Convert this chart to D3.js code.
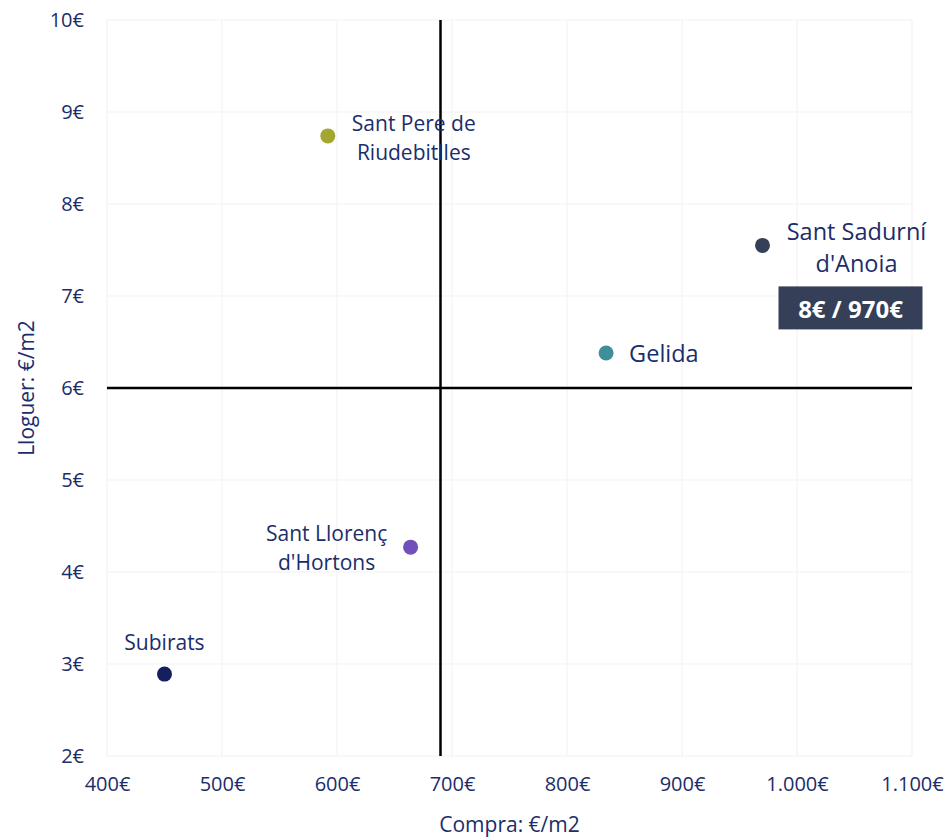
<!DOCTYPE html>
<html>
<head>
<meta charset="utf-8">
<script src="https://cdn.jsdelivr.net/npm/d3@7"></script>
<style>
  body { margin: 0; background: #fff; }
  text { font-family: "Open Sans", "Noto Sans", sans-serif; }
</style>
</head>
<body>
<div id="container"></div>
<script>
/* DATA */
const municipis = ["Sant Pere de Riudebitlles", "Sant Sadurní d'Anoia", "Gelida", "Sant Llorenç d'Hortons", "Subirats"];
const compra = [592, 970, 834, 664, 450];     // €/m2
const lloguer = [8.74, 7.55, 6.38, 4.27, 2.89]; // €/m2
const colorsPunt = ["#a3a630", "#363f58", "#3e8f98", "#7151b9", "#151f5e"];
const xTicks = [400, 500, 600, 700, 800, 900, 1000, 1100];
const yTicks = [2, 3, 4, 5, 6, 7, 8, 9, 10];
const mitjanaCompra = 690;
const mitjanaLloguer = 6;
const tooltipText = "8€ / 970€";

/* LAYOUT */
const width = 951, height = 838;
const margin = { top: 20, right: 39, bottom: 82, left: 107 };
const textColor = "#1b2d6b";

// label placement per point
const labelPos = [
  { dx: 86, dy: -13, lh: 29, anchor: "middle", size: 21, lines: ["Sant Pere de", "Riudebitlles"] },
  { dx: 94, dy: -14, lh: 32, anchor: "middle", size: 23.5, lines: ["Sant Sadurní", "d'Anoia"] },
  { dx: 23, dy: 0, lh: 0, anchor: "start", size: 23.5, lines: ["Gelida"] },
  { dx: -84, dy: -14, lh: 29, anchor: "middle", size: 21, lines: ["Sant Llorenç", "d'Hortons"] },
  { dx: 0, dy: -32, lh: 0, anchor: "middle", size: 21, lines: ["Subirats"] }
];

const data = municipis.map((m, i) => ({ name: m, compra: compra[i], lloguer: lloguer[i], color: colorsPunt[i], label: labelPos[i] }));

/* SCALES */
const xScale = d3.scaleLinear()
  .domain([400, 1100])
  .range([margin.left, width - margin.right]);

const yScale = d3.scaleLinear()
  .domain([2, 10])
  .range([height - margin.bottom, margin.top]);

const euro = d3.formatLocale({ decimal: ",", thousands: ".", grouping: [3], currency: ["", "€"] }).format("$,.0f");

/* SVG */
const svg = d3.select("#container")
  .append("svg")
  .attr("width", width)
  .attr("height", height);

// grid
svg.append("g")
  .selectAll("line")
  .data(xTicks)
  .join("line")
  .attr("x1", d => xScale(d)).attr("x2", d => xScale(d))
  .attr("y1", margin.top).attr("y2", height - margin.bottom)
  .attr("stroke", "#f1f1f1").attr("stroke-width", 1);

svg.append("g")
  .selectAll("line")
  .data(yTicks)
  .join("line")
  .attr("y1", d => yScale(d)).attr("y2", d => yScale(d))
  .attr("x1", margin.left).attr("x2", width - margin.right)
  .attr("stroke", "#f1f1f1").attr("stroke-width", 1);

// axes (tick labels only)
const xAxis = d3.axisBottom(xScale).tickValues(xTicks).tickFormat(euro).tickSize(0).tickPadding(21);
svg.append("g")
  .attr("transform", `translate(0,${height - margin.bottom})`)
  .call(xAxis)
  .call(g => g.select(".domain").remove())
  .selectAll("text")
  .attr("fill", textColor)
  .style("font-size", "20px");

const yAxis = d3.axisLeft(yScale).tickValues(yTicks).tickFormat(euro).tickSize(0).tickPadding(23);
svg.append("g")
  .attr("transform", `translate(${margin.left},0)`)
  .call(yAxis)
  .call(g => g.select(".domain").remove())
  .selectAll("text")
  .attr("fill", textColor)
  .style("font-size", "20px");

// axis titles
svg.append("text")
  .attr("x", (margin.left + width - margin.right) / 2)
  .attr("y", 832)
  .attr("text-anchor", "middle")
  .attr("fill", textColor)
  .style("font-size", "21px")
  .text("Compra: €/m2");

svg.append("text")
  .attr("transform", `translate(34,${(margin.top + height - margin.bottom) / 2}) rotate(-90)`)
  .attr("text-anchor", "middle")
  .attr("fill", textColor)
  .style("font-size", "21px")
  .text("Lloguer: €/m2");

// reference lines
svg.append("line")
  .attr("x1", xScale(mitjanaCompra)).attr("x2", xScale(mitjanaCompra))
  .attr("y1", margin.top).attr("y2", height - margin.bottom)
  .attr("stroke", "#000").attr("stroke-width", 2.5);

svg.append("line")
  .attr("x1", margin.left).attr("x2", width - margin.right)
  .attr("y1", yScale(mitjanaLloguer)).attr("y2", yScale(mitjanaLloguer))
  .attr("stroke", "#000").attr("stroke-width", 2.5);

// points
svg.selectAll("circle")
  .data(data, d => d.name)
  .join("circle")
  .attr("cx", d => xScale(d.compra))
  .attr("cy", d => yScale(d.lloguer))
  .attr("r", 7.5)
  .attr("fill", d => d.color);

// labels
const labels = svg.append("g")
  .selectAll("text")
  .data(data)
  .join("text")
  .attr("x", d => xScale(d.compra) + d.label.dx)
  .attr("y", d => yScale(d.lloguer) + d.label.dy)
  .attr("text-anchor", d => d.label.anchor)
  .attr("dominant-baseline", "central")
  .attr("fill", textColor)
  .style("font-size", d => d.label.size + "px");

labels.selectAll("tspan")
  .data(d => d.label.lines.map((l, i) => ({ text: l, x: xScale(d.compra) + d.label.dx, dy: i === 0 ? 0 : d.label.lh })))
  .join("tspan")
  .attr("x", d => d.x)
  .attr("dy", d => d.dy)
  .text(d => d.text);

// tooltip box on Sant Sadurní
const sel = data[1];
const bx = xScale(sel.compra) + 16, by = yScale(sel.lloguer) + 41;
svg.append("rect")
  .attr("x", bx).attr("y", by)
  .attr("width", 144).attr("height", 43)
  .attr("fill", "#353f57");
svg.append("text")
  .attr("x", bx + 72).attr("y", by + 22)
  .attr("text-anchor", "middle")
  .attr("dominant-baseline", "central")
  .attr("fill", "#fff")
  .style("font-size", "24px")
  .style("font-weight", "bold")
  .text(tooltipText);
</script>
</body>
</html>
